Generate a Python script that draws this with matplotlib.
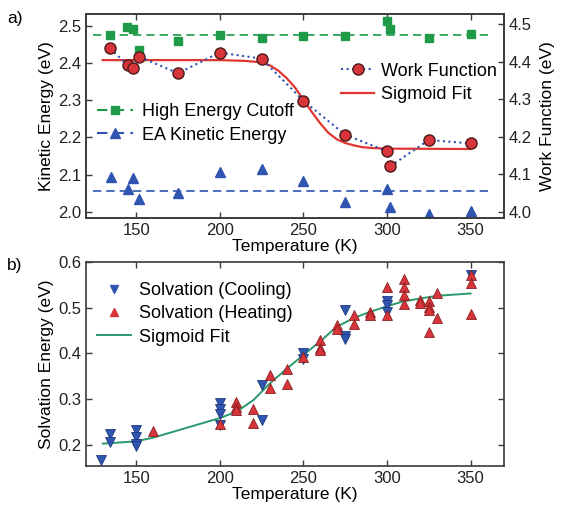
import numpy as np
import matplotlib.pyplot as plt
from matplotlib.lines import Line2D

plt.rcParams['font.family'] = ['Liberation Sans', 'DejaVu Sans']
plt.rcParams['font.size'] = 12

# ---- panel a) data ----
# high energy cutoff (green squares, left axis)
hce_T = [134.5, 144.8, 148, 152, 175, 200, 225, 250, 275, 300, 302, 325, 350]
hce_E = [2.475, 2.497, 2.492, 2.435, 2.458, 2.475, 2.467, 2.471, 2.471, 2.513, 2.492, 2.467, 2.478]
hce_mean = 2.475

# EA kinetic energy (blue triangles, left axis)
ea_T = [135, 145, 148, 152, 175, 200, 225, 250, 275, 300, 302, 325, 350]
ea_E = [2.094, 2.062, 2.092, 2.034, 2.052, 2.107, 2.116, 2.082, 2.027, 2.063, 2.013, 1.994, 2.004]
ea_mean = 2.056

# work function (red circles, right axis)
wf_T = [134.5, 145, 148, 152, 175, 200, 225, 250, 275, 300, 302, 325, 350]
wf_W = [4.435, 4.390, 4.382, 4.413, 4.369, 4.424, 4.408, 4.296, 4.205, 4.161, 4.121, 4.191, 4.182]

# sigmoid fit of work function
wfit_T = [130, 200, 215, 225, 230, 235, 240, 245, 250, 255, 260, 265, 270, 275, 280, 285, 290, 300, 350]
wfit_W = [4.404, 4.404, 4.402, 4.398, 4.390, 4.376, 4.356, 4.331, 4.299, 4.266, 4.236, 4.210, 4.193, 4.183, 4.177, 4.172, 4.170, 4.168, 4.167]

# ---- panel b) data ----
cool_T = [129, 134.5, 134.5, 150, 150, 150, 150, 200, 200, 200, 200, 225, 225,
          250, 250, 275, 275, 275, 300, 300, 300, 350]
cool_S = [0.166, 0.224, 0.206, 0.231, 0.217, 0.202, 0.196, 0.290, 0.279, 0.268, 0.242,
          0.331, 0.253, 0.401, 0.388, 0.494, 0.438, 0.432, 0.514, 0.505, 0.491, 0.571]

heat_T = [160, 200, 210, 210, 210, 220, 220, 230, 230, 240, 240, 250, 260, 260, 260,
          270, 270, 280, 280, 290, 290, 300, 300, 310, 310, 310, 310, 320, 320,
          325, 325, 325, 325, 330, 330, 350, 350, 350]
heat_S = [0.229, 0.245, 0.293, 0.282, 0.275, 0.279, 0.247, 0.352, 0.324, 0.366, 0.332,
          0.392, 0.428, 0.412, 0.407, 0.461, 0.454, 0.483, 0.465, 0.491, 0.483,
          0.545, 0.483, 0.563, 0.545, 0.527, 0.507, 0.516, 0.511, 0.514, 0.501,
          0.494, 0.447, 0.531, 0.477, 0.571, 0.553, 0.485]

sfit_T = [130, 150, 160, 200, 210, 220, 230, 240, 250, 260, 270, 280, 290, 300, 310, 320, 330, 350]
sfit_S = [0.202, 0.207, 0.215, 0.258, 0.272, 0.297, 0.334, 0.366, 0.396, 0.426, 0.458,
          0.477, 0.491, 0.503, 0.514, 0.520, 0.526, 0.531]

xticks = [150, 200, 250, 300, 350]

green = '#1f9a48'
blue = '#2f55b0'
red = '#d8353a'
redline = '#e03530'
teal = '#2a9a6c'
dark = '#3a3a3a'
lab_fs = 12.5
leg_fs = 13

fig = plt.figure(figsize=(5.65, 5.05), dpi=100)
ax1 = fig.add_axes([0.1522, 0.5683, 0.7398, 0.404])
ax2 = ax1.twinx()
ax3 = fig.add_axes([0.1522, 0.0772, 0.7398, 0.404])

# panel a
ax1.axhline(hce_mean, xmin=0.016, xmax=0.965, color=green, ls=(0, (5, 3)), lw=1.2)
ax1.axhline(ea_mean, xmin=0.016, xmax=0.965, color=blue, ls=(0, (5, 3)), lw=1.2)
ax1.plot(hce_T, hce_E, 's', color=green, ms=6, mec=green)
ax1.plot(ea_T, ea_E, '^', color=blue, ms=7, mec=blue)

ax2.plot(wfit_T, wfit_W, '-', color=redline, lw=1.6)
ax2.plot(wf_T, wf_W, ':', color=blue, lw=1.5, marker='o', ms=8,
         mfc=red, mec='#4a1a1a', mew=1.0)

ax1.set_xlim(120, 370)
ax1.set_ylim(1.984, 2.531)
ax2.set_ylim(3.983, 4.527)
ax1.set_xticks(xticks)
ax1.set_yticks([2.0, 2.1, 2.2, 2.3, 2.4, 2.5])
ax2.set_yticks([4.0, 4.1, 4.2, 4.3, 4.4, 4.5])
ax1.set_xlabel('Temperature (K)', labelpad=1, fontsize=lab_fs)
ax1.set_ylabel('Kinetic Energy (eV)', labelpad=3, fontsize=lab_fs)
ax2.set_ylabel('Work Function (eV)', labelpad=6, fontsize=lab_fs)

h_left = [Line2D([], [], color=green, ls=(0, (5, 3)), marker='s', ms=6),
          Line2D([], [], color=blue, ls=(0, (5, 3)), marker='^', ms=7)]
ax1.legend(h_left, ['High Energy Cutoff', 'EA Kinetic Energy'],
           loc='upper left', bbox_to_anchor=(0.0, 0.615), frameon=False, fontsize=leg_fs,
           handlelength=2.0, handletextpad=0.5, labelspacing=0.35, borderaxespad=0.2)
h_right = [Line2D([], [], color=blue, ls=':', lw=1.5, marker='o', ms=8, mfc=red, mec='#4a1a1a'),
           Line2D([], [], color=redline, lw=1.6)]
ax2.legend(h_right, ['Work Function', 'Sigmoid Fit'], loc='upper left',
           bbox_to_anchor=(0.585, 0.815), frameon=False, fontsize=leg_fs,
           handlelength=1.8, handletextpad=0.4, labelspacing=0.35, borderaxespad=0.2)

# panel b
ax3.plot(sfit_T, sfit_S, '-', color=teal, lw=1.4, zorder=2)
ax3.plot(cool_T, cool_S, 'v', color=blue, ms=7, mec='#1f3a80', mew=0.6, zorder=3)
ax3.plot(heat_T, heat_S, '^', color=red, ms=7, mec='#8a1f22', mew=0.6, zorder=3)
ax3.set_xlim(120, 370)
ax3.set_ylim(0.153, 0.6)
ax3.set_xticks(xticks)
ax3.set_yticks([0.2, 0.3, 0.4, 0.5, 0.6])
ax3.set_xlabel('Temperature (K)', labelpad=1, fontsize=lab_fs)
ax3.set_ylabel('Solvation Energy (eV)', labelpad=3, fontsize=lab_fs)
h_b = [Line2D([], [], ls='', marker='v', color=blue, ms=6),
       Line2D([], [], ls='', marker='^', color=red, ms=6),
       Line2D([], [], color=teal, lw=1.4)]
ax3.legend(h_b, ['Solvation (Cooling)', 'Solvation (Heating)', 'Sigmoid Fit'],
           loc='upper left', bbox_to_anchor=(0.0, 0.955), frameon=False, fontsize=leg_fs,
           handlelength=1.9, handletextpad=0.45, labelspacing=0.35, borderaxespad=0.2)

for ax in (ax1, ax2, ax3):
    for sp in ax.spines.values():
        sp.set_color(dark)
        sp.set_linewidth(1.2)
    ax.tick_params(direction='in', length=4, width=1, colors=dark, labelcolor='#222222')
ax1.tick_params(axis='x', top=True)
ax3.tick_params(top=True, right=True)

fig.text(0.012, 0.955, 'a)', fontsize=12.5)
fig.text(0.012, 0.465, 'b)', fontsize=12.5)

fig.savefig('out.png', dpi=100)
